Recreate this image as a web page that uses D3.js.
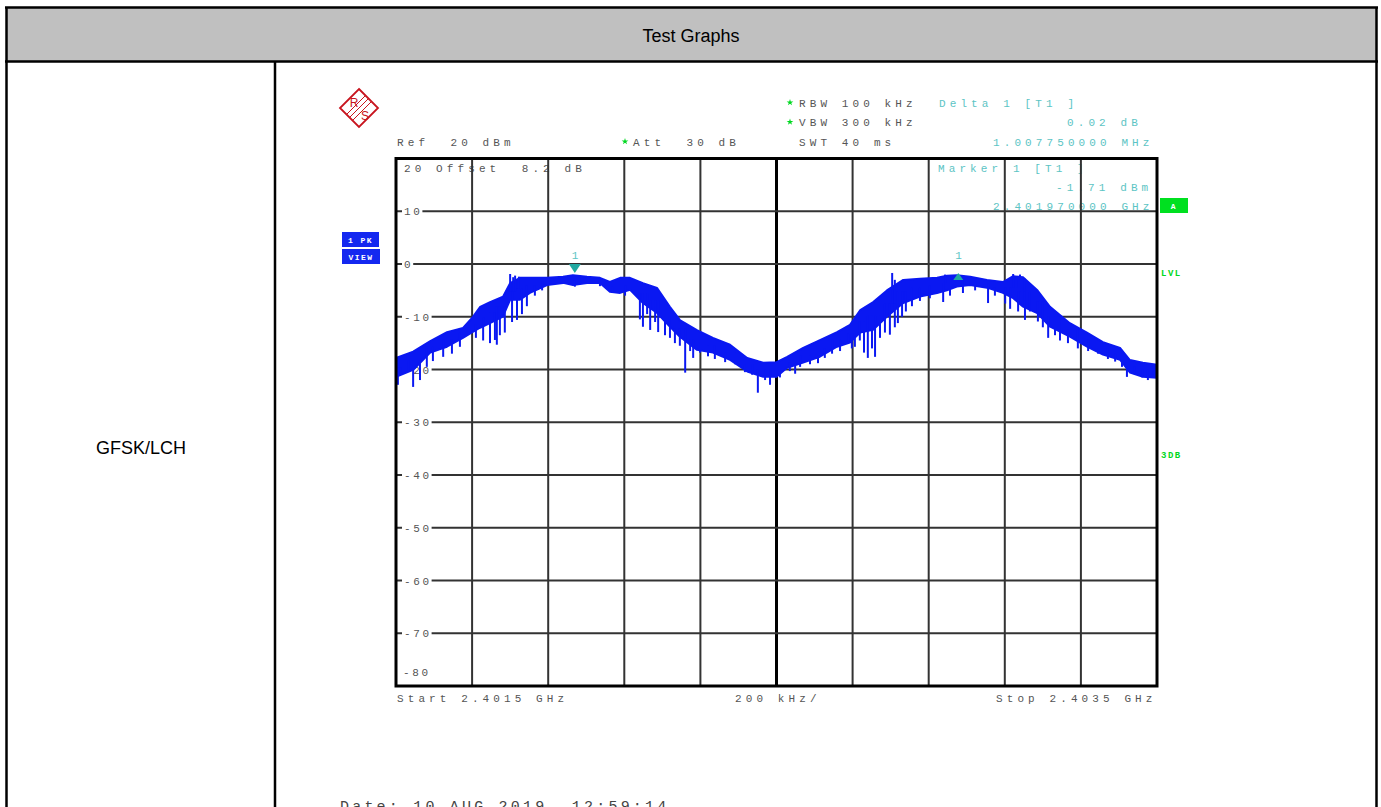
<!DOCTYPE html>
<html>
<head>
<meta charset="utf-8">
<script src="https://cdn.jsdelivr.net/npm/d3@7"></script>
<style>
  body { margin: 0; background: #fff; }
  svg { display: block; }
  .mono { font-family: "Liberation Mono", "DejaVu Sans Mono", monospace; font-size: 11px; letter-spacing: 4.1px; white-space: pre; }
</style>
</head>
<body>
<div id="chart"></div>
<script>
// Grille de l'analyseur
const yTicks = [20, 10, 0, -10, -20, -30, -40, -50, -60, -70, -80];
const xGrid = [2401.5, 2401.7, 2401.9, 2402.1, 2402.3, 2402.5, 2402.7, 2402.9, 2403.1, 2403.3, 2403.5];

// Trace (MHz, bord haut / bord bas en dBm)
const traceFreq = [2401.500, 2401.545, 2401.590, 2401.634, 2401.676, 2401.702, 2401.721, 2401.747, 2401.781, 2401.800,
  2401.826, 2401.852, 2401.897, 2401.939, 2401.965, 2402.002, 2402.036, 2402.062, 2402.089, 2402.115,
  2402.149, 2402.186, 2402.220, 2402.246, 2402.291, 2402.333, 2402.378, 2402.423, 2402.465, 2402.500,
  2402.528, 2402.570, 2402.614, 2402.659, 2402.693, 2402.720, 2402.754, 2402.790, 2402.833, 2402.877,
  2402.922, 2402.948, 2402.974, 2403.009, 2403.053, 2403.095, 2403.122, 2403.148, 2403.185, 2403.219,
  2403.271, 2403.316, 2403.358, 2403.403, 2403.429, 2403.463, 2403.500];
const traceTop = [-17.8, -16.6, -14.6, -12.9, -12.1, -10.0, -8.1, -7.2, -6.2, -3.6,
  -2.6, -2.6, -2.6, -2.4, -2.1, -2.4, -2.6, -3.4, -2.6, -2.6,
  -3.6, -4.5, -8.1, -10.6, -12.5, -14.0, -15.3, -17.8, -18.7, -18.6,
  -17.6, -15.9, -14.4, -12.9, -11.5, -8.7, -7.2, -5.0, -3.0, -2.8,
  -2.6, -2.2, -2.1, -2.4, -3.0, -3.4, -2.3, -2.5, -4.9, -8.1,
  -11.2, -13.0, -14.8, -15.9, -18.2, -18.7, -19.1];
const traceBottom = [-21.4, -20.1, -16.8, -15.7, -14.0, -12.9, -12.1, -11.2, -10.0, -6.8,
  -6.8, -5.5, -4.0, -3.6, -4.0, -3.6, -3.6, -5.3, -5.5, -4.9,
  -7.4, -9.3, -11.9, -13.8, -16.3, -16.8, -18.2, -20.4, -21.4, -21.4,
  -19.7, -18.7, -17.6, -15.7, -14.9, -13.0, -12.5, -10.0, -7.4, -6.2,
  -5.5, -5.0, -4.3, -4.0, -4.5, -5.5, -6.5, -8.1, -9.3, -11.9,
  -13.8, -15.7, -17.2, -18.2, -20.6, -21.4, -21.6];

// Pics isolés (MHz, dBm)
const spikeFreq = [
  2401.505, 2401.511, 2401.532, 2401.545, 2401.563, 2401.581, 2401.597, 2401.624, 2401.647, 2401.668,
  2401.710, 2401.729, 2401.747, 2401.760, 2401.765, 2401.773, 2401.786, 2401.805, 2401.818, 2401.831,
  2401.844, 2401.865, 2401.884, 2401.970, 2402.036, 2402.068, 2402.102,
  2402.141, 2402.149, 2402.160, 2402.168, 2402.181, 2402.189, 2402.207, 2402.220, 2402.233, 2402.246,
  2402.260, 2402.273, 2402.281, 2402.299, 2402.320, 2402.338, 2402.365, 2402.391, 2402.417, 2402.436,
  2402.451, 2402.470, 2402.483, 2402.509, 2402.535, 2402.549, 2402.562, 2402.588, 2402.609, 2402.627,
  2402.646, 2402.667, 2402.688, 2402.698, 2402.706, 2402.719, 2402.730, 2402.740, 2402.751, 2402.759,
  2402.772, 2402.785, 2402.798, 2402.811, 2402.819, 2402.830, 2402.840, 2402.856, 2402.877, 2402.903,
  2402.938, 2402.956, 2402.990, 2403.022, 2403.056, 2403.074, 2403.101, 2403.114, 2403.135, 2403.153,
  2403.166, 2403.187, 2403.200, 2403.214, 2403.232, 2403.245, 2403.266, 2403.292, 2403.319, 2403.345,
  2403.371, 2403.390, 2403.408, 2403.421, 2403.442, 2403.461, 2403.476, 2403.490,
  2401.800, 2401.808, 2401.813, 2401.823, 2402.804, 2402.811, 2402.943, 2403.122, 2403.132, 2403.140, 2403.153];
const spikeLevel = [
  -22.9, -21.0, -20.4, -23.3, -22.0, -19.5, -18.4, -17.6, -17.0, -15.7,
  -14.0, -14.5, -15.0, -14.4, -15.3, -13.5, -13.0, -11.0, -10.6, -9.5,
  -8.0, -6.0, -5.0, -4.3, -4.2, -5.5, -6.0,
  -10.5, -11.9, -9.5, -12.5, -11.0, -12.9, -13.5, -14.0, -15.0, -15.5,
  -20.6, -16.5, -17.8, -16.8, -17.5, -18.0, -18.6, -19.0, -20.5, -21.0,
  -24.4, -22.0, -22.9, -21.5, -20.3, -20.8, -19.5, -19.0, -18.8, -17.8,
  -17.0, -16.5, -15.0, -16.0, -15.7, -14.5, -16.8, -17.8, -16.0, -17.6,
  -14.0, -13.0, -13.4, -12.0, -11.2, -10.0, -9.0, -8.0, -7.0, -6.5,
  -7.2, -6.0, -5.5, -5.0, -7.4, -6.0, -7.5, -8.5, -9.0, -10.6,
  -9.0, -10.9, -12.0, -14.0, -13.5, -14.5, -15.0, -16.0, -16.5, -17.0,
  -18.0, -18.5, -19.5, -21.4, -21.0, -21.5, -22.0, -21.0,
  -1.9, -2.5, -2.2, -2.4, -1.7, -3.0, -2.0, -1.9, -2.4, -2.0, -2.8];

// Marqueurs
const markerFreq = [2401.970, 2402.97775];
const markerLevel = [-1.71, -1.69];

const W = 1381, H = 807;
const grey = "#555", teal = "#5cc4c4", green = "#00d820", blue = "#0a18f2", red = "#c8141e";

const svg = d3.select("#chart").append("svg")
  .attr("width", W).attr("height", H);

// Tableau
svg.append("rect").attr("x", 6.5).attr("y", 7.5).attr("width", 1370).attr("height", 54)
  .attr("fill", "#c0c0c0");
const border = svg.append("g").attr("stroke", "#000").attr("stroke-width", 2.5);
border.append("line").attr("x1", 5).attr("x2", 1378).attr("y1", 7.5).attr("y2", 7.5);
border.append("line").attr("x1", 5).attr("x2", 1378).attr("y1", 61.5).attr("y2", 61.5);
border.append("line").attr("x1", 6.5).attr("x2", 6.5).attr("y1", 7).attr("y2", H);
border.append("line").attr("x1", 1376.5).attr("x2", 1376.5).attr("y1", 7).attr("y2", H);
border.append("line").attr("x1", 275).attr("x2", 275).attr("y1", 61).attr("y2", H);

svg.append("text").attr("x", 691).attr("y", 42).attr("text-anchor", "middle")
  .style("font-family", "Liberation Sans, Arial, sans-serif").style("font-size", "18px")
  .text("Test Graphs");
svg.append("text").attr("x", 141).attr("y", 454).attr("text-anchor", "middle")
  .style("font-family", "Liberation Sans, Arial, sans-serif").style("font-size", "18px")
  .text("GFSK/LCH");

// Échelles
const x = d3.scaleLinear().domain([2401.5, 2403.5]).range([396, 1157]);
const y = d3.scaleLinear().domain([-80, 20]).range([686, 158.5]);

// Logo R&S
const logo = svg.append("g").attr("transform", "translate(359,108)");
logo.append("path").attr("d", "M0,-19L19,0L0,19L-19,0Z")
  .attr("fill", "#fff").attr("stroke", red).attr("stroke-width", 1.8);
[-3, 0, 3].forEach(o => {
  logo.append("line").attr("x1", -9.5 + o).attr("y1", 9.5 + o).attr("x2", 9.5 + o).attr("y2", -9.5 + o)
    .attr("stroke", red).attr("stroke-width", 1);
});
logo.append("text").attr("x", -5).attr("y", -1).attr("text-anchor", "middle")
  .style("font-family", "Liberation Sans, Arial, sans-serif").style("font-size", "12px").attr("fill", red).text("R");
logo.append("text").attr("x", 6).attr("y", 12).attr("text-anchor", "middle")
  .style("font-family", "Liberation Sans, Arial, sans-serif").style("font-size", "12px").attr("fill", red).text("S");

// Textes de réglage
const label = (tx, ty, s, col) => svg.append("text").attr("class", "mono")
  .attr("x", tx).attr("y", ty).attr("fill", col || grey).text(s);

const star = d3.symbol().type(d3.symbolStar).size(14);
[[790, 102.5], [790, 122], [625, 141.5]].forEach(p => {
  svg.append("path").attr("d", star).attr("transform", `translate(${p[0]},${p[1]})`).attr("fill", green);
});
label(799, 106.5, "RBW 100 kHz");
label(799, 126, "VBW 300 kHz");
label(799, 145.5, "SWT 40 ms");
label(397, 145.5, "Ref  20 dBm");
label(633, 145.5, "Att  30 dB");
label(939, 106.5, "Delta 1 [T1 ]", teal);
label(1067, 126, "0.02 dB", teal);
label(993, 145.5, "1.007750000 MHz", teal);

// Textes dans la grille (sous les lignes)
label(404, 172, "20 Offset  8.2 dB");
label(938, 172, "Marker 1 [T1 ]", teal);
label(1056, 191, "-1.71 dBm", teal);
label(993, 210, "2.401970000 GHz", teal);

// Grille
const grid = svg.append("g");
grid.selectAll("line.v").data(xGrid.slice(1, -1)).join("line")
  .attr("x1", d => x(d)).attr("x2", d => x(d)).attr("y1", y(20)).attr("y2", y(-80))
  .attr("stroke", d => d === 2402.5 ? "#000" : "#333")
  .attr("stroke-width", d => d === 2402.5 ? 3 : 2);
grid.selectAll("line.h").data(yTicks.slice(1, -1)).join("line")
  .attr("x1", x(2401.5)).attr("x2", x(2403.5)).attr("y1", d => y(d)).attr("y2", d => y(d))
  .attr("stroke", "#333").attr("stroke-width", 2);

// Étiquettes de niveau
const tickLabel = (tx, ty, s) => svg.append("text")
  .attr("x", tx).attr("y", ty).attr("fill", grey)
  .style("font-family", "Liberation Mono, monospace").style("font-size", "11px")
  .style("letter-spacing", "2.6px").text(s);
yTicks.slice(1, -1).forEach(v => {
  const s = String(v);
  svg.append("rect").attr("x", 402).attr("y", y(v) - 6).attr("width", s.length * 9.2 + 2).attr("height", 12).attr("fill", "#fff");
  tickLabel(404, y(v) + 4, s);
});
tickLabel(403, 676, "-80");

// Trace
const area = d3.area()
  .x((d, i) => x(traceFreq[i]))
  .y0((d, i) => y(traceBottom[i]))
  .y1((d, i) => y(traceTop[i]));
svg.append("path").datum(traceFreq).attr("d", area)
  .attr("fill", blue).attr("stroke", blue).attr("stroke-width", 1.8).attr("stroke-linejoin", "round");

spikeFreq.forEach((f, i) => {
  const j = d3.minIndex(traceFreq, t => Math.abs(t - f));
  const mid = (traceTop[j] + traceBottom[j]) / 2;
  svg.append("line").attr("x1", x(f)).attr("x2", x(f))
    .attr("y1", y(spikeLevel[i])).attr("y2", y(mid))
    .attr("stroke", blue).attr("stroke-width", 2);
});

// Cadre
svg.append("rect").attr("x", x(2401.5)).attr("y", y(20))
  .attr("width", x(2403.5) - x(2401.5)).attr("height", y(-80) - y(20))
  .attr("fill", "none").attr("stroke", "#000").attr("stroke-width", 3);

// Marqueurs
const mColor = "#1fa8a0";
markerFreq.forEach((f, i) => {
  const mx = x(f), my = y(markerLevel[i]);
  const pts = i === 0
    ? [[mx - 6, my - 9], [mx + 6, my - 9], [mx, my]]
    : [[mx - 5, my + 7], [mx + 5, my + 7], [mx, my]];
  svg.append("path").attr("d", d3.line()(pts) + "Z").attr("fill", mColor);
  svg.append("text").attr("class", "mono").attr("x", mx - 3).attr("y", 259).attr("fill", teal).text("1");
});

// Indicateurs latéraux
const badge = (bx, by, bw, bh, s, col) => {
  svg.append("rect").attr("x", bx).attr("y", by).attr("width", bw).attr("height", bh).attr("fill", col);
  svg.append("text").attr("x", bx + bw / 2).attr("y", by + bh / 2 + 3).attr("text-anchor", "middle")
    .style("font-family", "Liberation Mono, monospace").style("font-size", "8px").style("font-weight", "bold")
    .style("letter-spacing", "1.5px").attr("fill", "#fff").text(s);
};
badge(342, 232, 37, 15, "1 PK", "#1428f0");
badge(342, 249, 38, 15, "VIEW", "#1428f0");
badge(1160, 198, 28, 15, "A", "#00e020");
[["LVL", 276], ["3DB", 458]].forEach(d => {
  svg.append("text").attr("x", 1161).attr("y", d[1])
    .style("font-family", "Liberation Mono, monospace").style("font-size", "9px").style("font-weight", "bold")
    .style("letter-spacing", "1.5px").attr("fill", green).text(d[0]);
});

// Axe des fréquences
label(397, 702, "Start 2.4015 GHz");
label(735, 702, "200 kHz/");
label(996, 702, "Stop 2.4035 GHz");

svg.append("text").attr("x", 340).attr("y", 811)
  .style("font-family", "Liberation Mono, monospace").style("font-size", "15px")
  .style("letter-spacing", "3.2px").style("white-space", "pre").attr("fill", "#444")
  .text("Date: 10 AUG 2019  12:59:14");
</script>
</body>
</html>
